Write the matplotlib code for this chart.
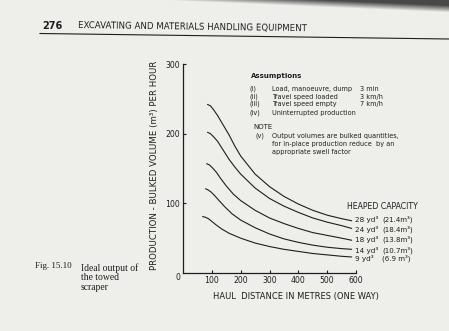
import numpy as np
import matplotlib.pyplot as plt

W, H = 449, 331
INK = '#1e1e1e'
PAPER = '#eeeeeb'
SANS = 'DejaVu Sans'
SERIF = ['Liberation Serif', 'DejaVu Serif']


def fx(px):
    return px / W


def fy(py):
    return 1 - py / H


# production curves, bulked m3 per hour vs haul distance in metres
dist_28 = [85, 95, 105, 120, 140, 160, 180, 200, 250, 300, 350, 400, 450, 500, 550, 585]
prod_28 = [242, 240, 235, 226, 212, 198, 182, 168, 142, 124, 110, 99, 90, 83, 78, 75]

dist_24 = [85, 95, 105, 120, 140, 160, 180, 200, 250, 300, 350, 400, 450, 500, 550, 585]
prod_24 = [202, 200, 196, 189, 176, 163, 152, 142, 122, 107, 96, 87, 79, 73, 68, 64]

dist_18 = [82, 92, 102, 115, 130, 150, 175, 200, 250, 300, 350, 400, 450, 500, 550, 585]
prod_18 = [157, 155, 151, 145, 136, 125, 113, 104, 90, 79, 71, 64, 58, 54, 50, 47]

dist_14 = [78, 88, 98, 110, 125, 145, 170, 200, 250, 300, 350, 400, 450, 500, 550, 585]
prod_14 = [121, 119, 116, 111, 104, 95, 85, 76, 65, 56, 49, 44, 40, 37, 35, 34]

dist_9 = [68, 78, 88, 100, 115, 135, 160, 200, 250, 300, 350, 400, 450, 500, 550, 585]
prod_9 = [81, 80, 78, 74, 69, 63, 57, 50, 43, 38, 34, 31, 28, 26, 24, 23]

curves = [(dist_28, prod_28), (dist_24, prod_24), (dist_18, prod_18),
          (dist_14, prod_14), (dist_9, prod_9)]
yd_labels = ['28 yd³', '24 yd³', '18 yd³', '14 yd³', '9 yd³']
m3_labels = ['(21.4m³)', '(18.4m³)', '(13.8m³)', '(10.7m³)', '(6.9 m³)']

x_ticks = [100, 200, 300, 400, 500, 600]
y_ticks = [100, 200, 300]

assumptions = [('(i)', 'Load, manoeuvre, dump', '3 min'),
               ('(ii)', 'Travel speed loaded', '3 km/h'),
               ('(iii)', 'Travel speed empty', '7 km/h'),
               ('(iv)', 'Uninterrupted production', '')]
note_lines = ['Output volumes are bulked quantities,',
              'for in-place production reduce  by an',
              'appropriate swell factor']

fig = plt.figure(figsize=(W / 100, H / 100), dpi=100, facecolor=PAPER)

# scanner shadow along the top edge
bg = fig.add_axes([0, 0, 1, 1], zorder=-5)
bg.set_axis_off()
xx, yy = np.meshgrid(np.arange(W), np.arange(H))
thick = np.clip((xx - 170) / 279, 0, 1) * 12
shade = np.clip((thick - yy) / 7, 0, 1) * 0.8
img = np.ones((H, W, 4))
img[..., :3] = 0.12
img[..., 3] = shade
bg.imshow(img, extent=[0, W, H, 0], aspect='auto')
bg.set_xlim(0, W)
bg.set_ylim(H, 0)

# running head
fig.text(fx(42), fy(26), '276', fontsize=7, fontweight='bold', color=INK,
         family=SANS, va='center', ha='left')
fig.text(fx(78), fy(27), 'EXCAVATING AND MATERIALS HANDLING EQUIPMENT', fontsize=6.2,
         color=INK, family=SANS, va='center', ha='left', rotation=-0.8)
bg.plot([40, 449], [33.5, 39], color=INK, lw=0.8)

# chart axes
ax = fig.add_axes([fx(183), fy(273), fx(356) - fx(183), fy(64) - fy(273)])
ax.set_facecolor('none')
for d, p in curves:
    ax.plot(d, p, color=INK, lw=0.8, solid_capstyle='round')

ax.set_xlim(0, 600)
ax.set_ylim(0, 300)
for s in ['top', 'right']:
    ax.spines[s].set_visible(False)
for s in ['left', 'bottom']:
    ax.spines[s].set_color(INK)
    ax.spines[s].set_linewidth(0.9)
ax.set_xticks(x_ticks)
ax.set_yticks(y_ticks)
ax.tick_params(direction='in', length=2.5, width=0.8, colors=INK, labelsize=5.6, pad=2)
# little hook at the top of the vertical axis
ax.plot([0, 6], [300, 300], color=INK, lw=0.8, clip_on=False)

fig.text(fx(178), fy(277), '0', fontsize=5.6, color=INK, family=SANS, ha='center', va='center')
fig.text(fx(296), fy(297), 'HAUL  DISTANCE IN METRES (ONE WAY)', fontsize=6.0, color=INK,
         family=SANS, ha='center', va='center')
fig.text(fx(155), fy(165), 'PRODUCTION - BULKED VOLUME (m³) PER HOUR', fontsize=6.2,
         color=INK, family=SANS, ha='center', va='center', rotation=90)

# curve labels, nudged apart a little where the curve ends crowd together
nudge = [1.5, -1.0, 1.0, -1.0, -1.5]
ax.text(693, 96, 'HEAPED CAPACITY', fontsize=5.6, color=INK, family=SANS,
        ha='center', va='center', clip_on=False)
for (d, p), yd, m3, dy in zip(curves, yd_labels, m3_labels, nudge):
    ax.text(d[-1] + 12, p[-1] + dy, yd, fontsize=5.2, color=INK, family=SANS,
            ha='left', va='center', clip_on=False)
    ax.text(690, p[-1] + dy, m3, fontsize=5.0, color=INK, family=SANS,
            ha='left', va='center', clip_on=False)

# assumptions block
fig.text(fx(251), fy(76), 'Assumptions', fontsize=5.0, fontweight='bold', color=INK,
         family=SANS, ha='left', va='center')
rows_y = [89, 97, 104, 113]
for (num, txt, val), ry in zip(assumptions, rows_y):
    fig.text(fx(250), fy(ry), num, fontsize=4.7, color=INK, family=SANS, ha='left', va='center')
    fig.text(fx(272), fy(ry), txt, fontsize=4.7, color=INK, family=SANS, ha='left', va='center')
    if val:
        fig.text(fx(360), fy(ry), val, fontsize=4.7, color=INK, family=SANS, ha='left', va='center')

fig.text(fx(253), fy(127), 'NOTE', fontsize=5.0, color=INK, family=SANS, ha='left', va='center')
fig.text(fx(255), fy(136), '(v)', fontsize=4.7, color=INK, family=SANS, ha='left', va='center')
for line, ry in zip(note_lines, [136, 144, 152]):
    fig.text(fx(272), fy(ry), line, fontsize=4.7, color=INK, family=SANS, ha='left', va='center')

# figure caption
fig.text(fx(35), fy(266), 'Fig. 15.10', fontsize=6.5, color=INK, family=SERIF, ha='left', va='center')
for line, ry in zip(['Ideal output of', 'the towed', 'scraper'], [268, 278, 287]):
    fig.text(fx(81), fy(ry), line, fontsize=6.9, color=INK, family=SERIF, ha='left', va='center')

fig.savefig('out.png', dpi=100, facecolor=PAPER)
